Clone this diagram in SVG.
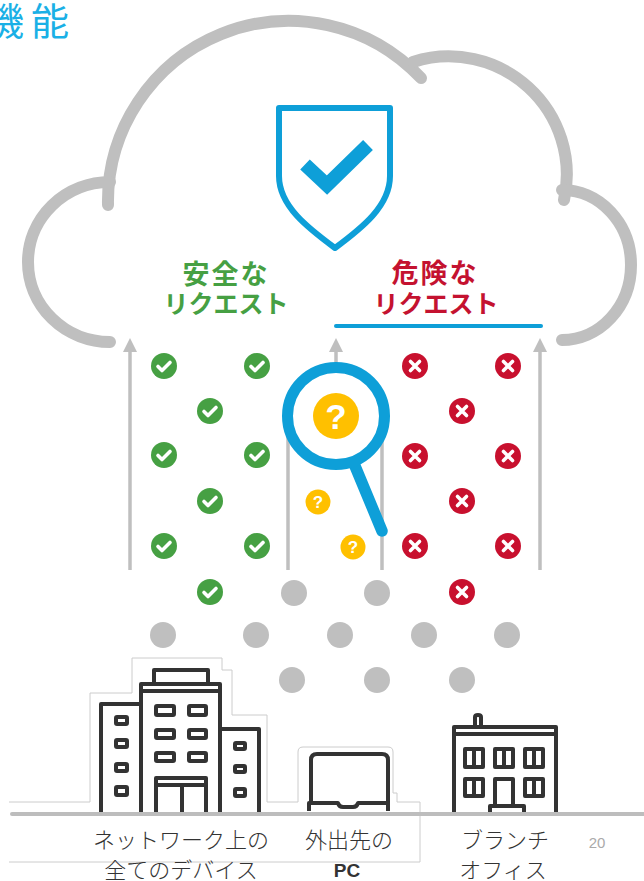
<svg xmlns="http://www.w3.org/2000/svg" width="644" height="881" viewBox="0 0 644 881">
  <style>
    .cloud { fill: none; stroke: #bfbfbf; stroke-width: 12; stroke-linecap: round; }
    .flow { fill: none; stroke: #bfbfbf; stroke-width: 3.5; }
    .bld { fill: none; stroke: #333333; stroke-width: 4; stroke-linejoin: round; }
    .halo { fill: #ffffff; stroke: #cccccc; stroke-width: 1; }
    .thin { fill: none; stroke: #cccccc; stroke-width: 1; }
    .jp { font-family: "Noto Sans CJK JP", "Noto Sans", sans-serif; }
    .lbl { font-size: 22px; fill: #333333; font-weight: 300; text-anchor: middle; }
    .cat { font-size: 25px; font-weight: 700; text-anchor: middle; }
    .cat1 { font-size: 27px; letter-spacing: 2px; }
    .mark { fill: none; stroke: #ffffff; stroke-width: 3.6; stroke-linecap: round; stroke-linejoin: round; }
    .qm { font-family: "Liberation Sans", Arial, sans-serif; font-weight: 700; fill: #ffffff; text-anchor: middle; }
  </style>
  <defs>
    <g id="ok">
      <circle r="13" fill="#46a043"/>
      <polyline class="mark" points="-6,0.5 -2,4.5 6,-3.5"/>
    </g>
    <g id="ng">
      <circle r="13" fill="#c8102e"/>
      <path class="mark" d="M-4.5,-4.5 L4.5,4.5 M4.5,-4.5 L-4.5,4.5"/>
    </g>
    <g id="q">
      <circle r="12.5" fill="#ffc000"/>
      <text class="qm" y="6" font-size="17">?</text>
    </g>
    <circle id="dot" r="13" fill="#bfbfbf"/>
    <marker id="head" markerWidth="14" markerHeight="14" viewBox="0 0 14 14" refX="7" refY="7" orient="auto" markerUnits="userSpaceOnUse">
      <path d="M0,0 L14,7 L0,14 Z" fill="#bfbfbf"/>
    </marker>
  </defs>

  <rect width="644" height="881" fill="#ffffff"/>

  <!-- title -->
  <text id="title" class="jp" x="-14" y="35" font-size="38" fill="#1ab0e6">機<tspan x="31">能</tspan></text>

  <!-- cloud outline -->
  <g id="cloud">
    <path class="cloud" d="M108,205 A181,181 0 0 1 421,78"/>
    <path class="cloud" d="M413,62 A118,118 0 0 1 564,200"/>
    <path class="cloud" d="M110,182 A82,80 0 0 0 110,342"/>
    <path class="cloud" d="M562,190 A69,75 0 0 1 562,340"/>
  </g>

  <!-- shield -->
  <g id="shield">
    <path d="M279,108 H390 V176 C390,206 362,228 335,248 C308,228 279,206 279,176 Z" fill="none" stroke="#0e9fd8" stroke-width="6" stroke-linejoin="round"/>
    <polyline points="305,164.5 327,185 368,145" fill="none" stroke="#0e9fd8" stroke-width="14"/>
  </g>

  <!-- category labels -->
  <g id="safe">
    <text class="jp cat cat1" x="226" y="284" fill="#46a043">安全な</text>
    <text class="jp cat" x="226" y="313" fill="#46a043">リクエスト</text>
  </g>
  <g id="danger">
    <text class="jp cat cat1" x="435" y="283" fill="#c41230">危険な</text>
    <text class="jp cat" x="436" y="313" fill="#c41230">リクエスト</text>
    <line x1="336" y1="326" x2="541" y2="326" stroke="#0e9fd8" stroke-width="4" stroke-linecap="round"/>
  </g>

  <!-- upward flows -->
  <g id="connectors">
    <line class="flow" x1="130" y1="570" x2="130" y2="345" marker-end="url(#head)"/>
    <line class="flow" x1="540" y1="570" x2="540" y2="345" marker-end="url(#head)"/>
    <line class="flow" x1="336" y1="420" x2="336" y2="345" marker-end="url(#head)"/>
    <line class="flow" x1="288" y1="570" x2="288" y2="420"/>
    <line class="flow" x1="382" y1="570" x2="382" y2="420"/>
  </g>

  <!-- request markers -->
  <g id="safe-requests">
    <use href="#ok" x="164" y="366"/>
    <use href="#ok" x="257" y="366"/>
    <use href="#ok" x="210" y="411"/>
    <use href="#ok" x="164" y="455"/>
    <use href="#ok" x="257" y="455"/>
    <use href="#ok" x="210" y="501"/>
    <use href="#ok" x="164" y="546"/>
    <use href="#ok" x="257" y="546"/>
    <use href="#ok" x="210" y="592"/>
  </g>
  <g id="unsafe-requests">
    <use href="#ng" x="415" y="366"/>
    <use href="#ng" x="508" y="366"/>
    <use href="#ng" x="462" y="411"/>
    <use href="#ng" x="415" y="456"/>
    <use href="#ng" x="508" y="456"/>
    <use href="#ng" x="462" y="501"/>
    <use href="#ng" x="415" y="546"/>
    <use href="#ng" x="508" y="546"/>
    <use href="#ng" x="462" y="592"/>
  </g>
  <g id="unknown-requests">
    <use href="#q" x="318" y="502"/>
    <use href="#q" x="353" y="547"/>
  </g>
  <g id="pending">
    <use href="#dot" x="294" y="593"/>
    <use href="#dot" x="377" y="593"/>
    <use href="#dot" x="163" y="635"/>
    <use href="#dot" x="256" y="635"/>
    <use href="#dot" x="340" y="635"/>
    <use href="#dot" x="424" y="635"/>
    <use href="#dot" x="507" y="635"/>
    <use href="#dot" x="292" y="680"/>
    <use href="#dot" x="377" y="680"/>
    <use href="#dot" x="462" y="680"/>
  </g>

  <!-- magnifier -->
  <g id="magnifier">
    <line x1="355" y1="466" x2="382" y2="531" stroke="#0e9fd8" stroke-width="11.5" stroke-linecap="round"/>
    <circle cx="336" cy="416" r="48.5" fill="#ffffff" stroke="#0e9fd8" stroke-width="11"/>
    <circle cx="336" cy="416" r="23" fill="#ffc000"/>
    <text class="qm" x="336" y="429" font-size="35">?</text>
  </g>

  <!-- halo outlines and label frame -->
  <path class="halo" d="M9,802 H90 V693 H132 V658 H222 V670 H232 V715 H267 V802 H298 V752 Q298,747 303,747 H388 Q393,747 393,752 V793 H397 V802"/>
  <path class="thin" d="M397,802 H420 V862 H9"/>

  <!-- office tower -->
  <g id="hq">
    <path class="bld" d="M154,684 V670 H208 V684"/>
    <path class="bld" d="M141,813 V684 H220 V813 M141,691 H220"/>
    <path class="bld" d="M141,704 H101 V813"/>
    <path class="bld" d="M220,729 H259 V813"/>
    <rect class="bld" x="116" y="717" width="11" height="7" rx="1"/>
    <rect class="bld" x="116" y="740" width="11" height="7" rx="1"/>
    <rect class="bld" x="116" y="764" width="11" height="7" rx="1"/>
    <rect class="bld" x="116" y="787" width="11" height="8" rx="1"/>
    <rect class="bld" x="156" y="706" width="18" height="9" rx="1"/>
    <rect class="bld" x="189" y="706" width="17" height="9" rx="1"/>
    <rect class="bld" x="156" y="730" width="18" height="8" rx="1"/>
    <rect class="bld" x="189" y="730" width="17" height="8" rx="1"/>
    <rect class="bld" x="156" y="753" width="18" height="8" rx="1"/>
    <rect class="bld" x="189" y="753" width="17" height="8" rx="1"/>
    <path class="bld" d="M156,813 V778 H206 V813 M156,785 H206 M182,785 V813"/>
    <rect class="bld" x="235" y="743" width="10" height="6" rx="1"/>
    <rect class="bld" x="235" y="766" width="10" height="6" rx="1"/>
    <rect class="bld" x="235" y="789" width="10" height="7" rx="1"/>
  </g>

  <!-- laptop -->
  <g id="laptop">
    <path class="bld" d="M311,803 V760 Q311,754 317,754 H382 Q388,754 388,760 V803"/>
    <path class="bld" d="M309,811 V803 H338 Q339,807 343,807 H353 Q357,807 358,803 H388 V811"/>
  </g>

  <!-- branch office -->
  <g id="branch">
    <path class="bld" d="M475,727 V717 Q475,715 478,715 Q481,715 481,717 V727"/>
    <path class="bld" d="M454,813 V727 H556 V813 M454,734 H556"/>
    <path class="bld" d="M465,749 h18 v18 h-18 Z M474,749 v18 M495,749 h18 v18 h-18 Z M504,749 v18 M525,749 h18 v18 h-18 Z M534,749 v18"/>
    <path class="bld" d="M465,779 h18 v17 h-18 Z M474,779 v17 M525,779 h18 v17 h-18 Z M534,779 v17"/>
    <path class="bld" d="M495,806 V779 H513 V806 M490,813 V806 H524 V813"/>
  </g>

  <!-- ground -->
  <line x1="12" y1="814" x2="644" y2="814" stroke="#bdbdbd" stroke-width="4" stroke-linecap="round"/>

  <!-- location labels -->
  <g id="label-network">
    <text class="jp lbl" x="181" y="848">ネットワーク上の</text>
    <text class="jp lbl" x="181" y="878">全てのデバイス</text>
  </g>
  <g id="label-remote">
    <text class="jp lbl" x="349" y="848">外出先の</text>
    <text x="347" y="877" font-family="Liberation Sans, Arial, sans-serif" font-weight="700" font-size="19" fill="#333333" text-anchor="middle">PC</text>
  </g>
  <g id="label-branch">
    <text class="jp lbl" x="505" y="848">ブランチ</text>
    <text class="jp lbl" x="503" y="878">オフィス</text>
  </g>
  <text id="page" x="597" y="848" font-family="Liberation Sans, Arial, sans-serif" font-size="15" fill="#aaaaaa" text-anchor="middle">20</text>
</svg>
